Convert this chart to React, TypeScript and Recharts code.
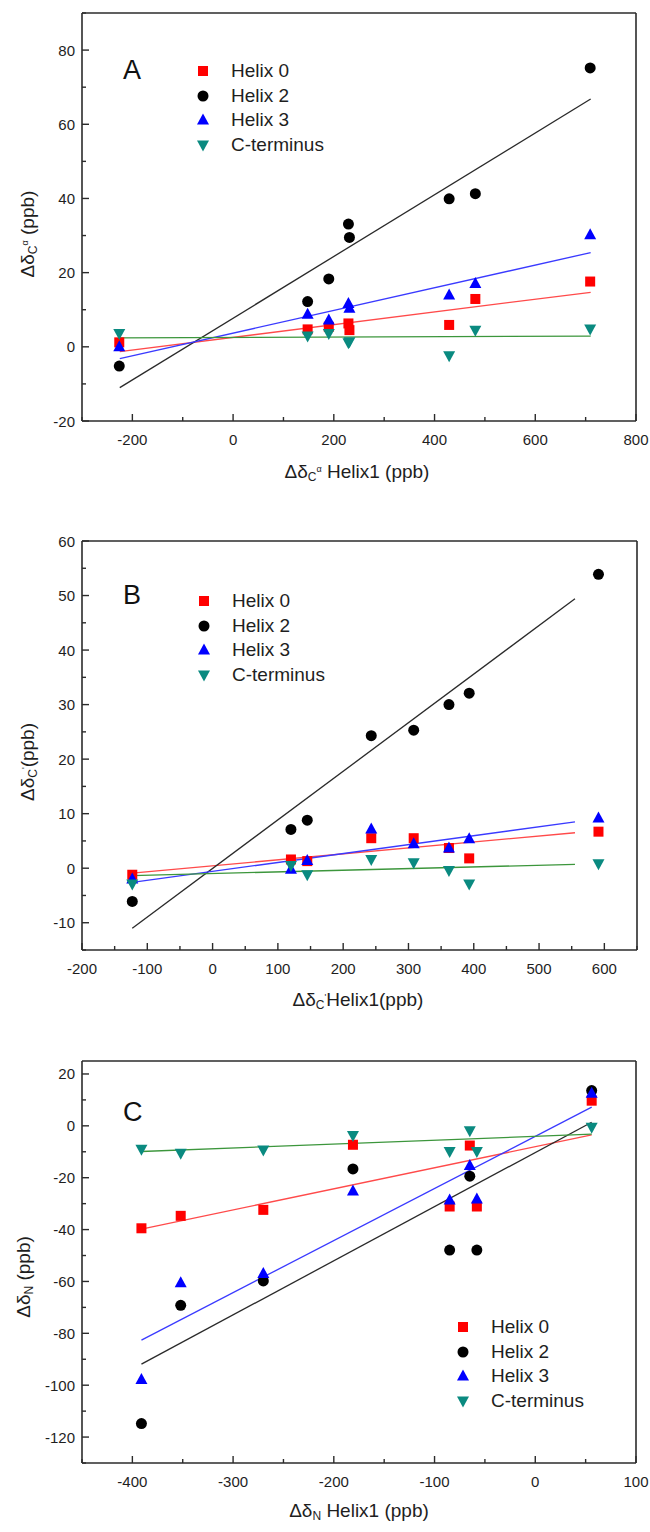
import React from 'react';
import { ScatterChart, Scatter, XAxis, YAxis, Legend } from 'recharts';

// ---------- panel A (C-alpha) ----------
const aX = [-226, 148, 190, 229, 231, 429, 481, 709];
const aHelix0 = [1.2, 4.7, 5.4, 6.3, 4.5, 5.9, 12.9, 17.6];
const aHelix2 = [-5.2, 12.2, 18.3, 33.1, 29.5, 39.9, 41.3, 75.2];
const aHelix3 = [0, 8.8, 7.2, 11.7, 10.4, 14, 17.1, 30.2];
const aCterm = [3.6, 2.9, 3.6, 1.1, 1.4, -2.4, 4.5, 4.8];
const aFitX = [-225, 710];
const aFitHelix0 = [-1.3, 14.7];
const aFitHelix2 = [-11, 66.8];
const aFitHelix3 = [-3.2, 25.4];
const aFitCterm = [2.4, 2.9];
const aXTicks = [-300, -200, -100, 0, 100, 200, 300, 400, 500, 600, 700, 800];
const aXLabels = [-200, 0, 200, 400, 600, 800];
const aYTicks = [-20, -10, 0, 10, 20, 30, 40, 50, 60, 70, 80, 90];
const aYLabels = [-20, 0, 20, 40, 60, 80];

// ---------- panel B (C') ----------
const bX = [-123, 120, 145, 243, 308, 362, 393, 591];
const bHelix0 = [-1.2, 1.6, 1.3, 5.5, 5.5, 3.7, 1.8, 6.7];
const bHelix2 = [-6.1, 7.1, 8.8, 24.3, 25.3, 30.0, 32.1, 53.9];
const bHelix3 = [-2.0, -0.2, 1.4, 7.2, 4.5, 3.7, 5.4, 9.2];
const bCterm = [-2.9, 0.5, -1.2, 1.6, 1.0, -0.4, -2.9, 0.8];
const bFitX = [-123, 555];
const bFitHelix0 = [-0.9, 6.5];
const bFitHelix2 = [-11, 49.4];
const bFitHelix3 = [-2.6, 8.5];
const bFitCterm = [-1.35, 0.7];
const bXTicks = [-200, -150, -100, -50, 0, 50, 100, 150, 200, 250, 300, 350, 400, 450, 500, 550, 600, 650];
const bXLabels = [-200, -100, 0, 100, 200, 300, 400, 500, 600];
const bYTicks = [-15, -10, -5, 0, 5, 10, 15, 20, 25, 30, 35, 40, 45, 50, 55, 60];
const bYLabels = [-10, 0, 10, 20, 30, 40, 50, 60];

// ---------- panel C (N) ----------
const cX = [-391, -352, -270, -181, -85, -65, -58, 56];
const cHelix0 = [-39.5, -34.7, -32.4, -7.3, -31.1, -7.6, -31.1, 9.7];
const cHelix2 = [-114.8, -69.2, -59.8, -16.6, -47.9, -19.4, -47.9, 13.6];
const cHelix3 = [-97.8, -60.5, -56.9, -25.1, -28.6, -15.3, -28.2, 12.6];
const cCterm = [-9, -10.6, -9.3, -3.7, -9.9, -1.9, -9.9, -0.5];
const cFitX = [-391, 56];
const cFitHelix0 = [-39.8, -3.5];
const cFitHelix2 = [-91.9, 1.4];
const cFitHelix3 = [-82.6, 7.2];
const cFitCterm = [-9.9, -3.2];
const cXTicks = [-450, -400, -350, -300, -250, -200, -150, -100, -50, 0, 50, 100];
const cXLabels = [-400, -300, -200, -100, 0, 100];
const cYTicks = [-130, -120, -110, -100, -90, -80, -70, -60, -50, -40, -30, -20, -10, 0, 10, 20];
const cYLabels = [-120, -100, -80, -60, -40, -20, 0, 20];

const seriesNames = ['Helix 0', 'Helix 2', 'Helix 3', 'C-terminus'];

const FONT = '"Liberation Sans", Arial, Helvetica, sans-serif';
const FRAME = '#2b2b2b';
const TEXT = '#1e1e1e';
const MARK = { square: '#ff0000', circle: '#000000', up: '#0000ff', down: '#0a8a80' };
const FIT = { square: '#ff4a4a', circle: '#2a2a2a', up: '#3a3aff', down: '#3c963c' };
const kinds: Array<'square' | 'circle' | 'up' | 'down'> = ['square', 'circle', 'up', 'down'];

const pts = (xs: number[], ys: number[]) => xs.map((x, i) => ({ x, y: ys[i] }));

const drawMarker = (kind: string, cx: number, cy: number) => {
  const c = (MARK as any)[kind];
  if (kind === 'square') return <rect x={cx - 5} y={cy - 5} width={10} height={10} fill={c} />;
  if (kind === 'circle') return <circle cx={cx} cy={cy} r={5.5} fill={c} />;
  if (kind === 'up')
    return <polygon points={`${cx},${cy - 6.5} ${cx + 6},${cy + 4.5} ${cx - 6},${cy + 4.5}`} fill={c} />;
  return <polygon points={`${cx},${cy + 6.5} ${cx + 6},${cy - 4.5} ${cx - 6},${cy - 4.5}`} fill={c} />;
};

const markerShape = (kind: string) => (p: any) => {
  if (p.cx == null || p.cy == null) return <g />;
  return drawMarker(kind, p.cx, p.cy);
};
const noShape = () => <g />;

// inward ticks on all four sides, labels only on majors
const makeTick = (side: string, labels: number[]) => (p: any) => {
  const v = p.payload.value;
  const major = labels.includes(v);
  const len = major ? 7 : 4;
  const { x, y } = p;
  const txt = { fontSize: 15, fill: TEXT, fontFamily: FONT } as any;
  if (side === 'bottom')
    return (
      <g>
        <line x1={x} y1={y} x2={x} y2={y - len} stroke={FRAME} strokeWidth={1.4} />
        {major && <text x={x} y={y + 18} textAnchor="middle" dominantBaseline="central" {...txt}>{v}</text>}
      </g>
    );
  if (side === 'top') return <line x1={x} y1={y} x2={x} y2={y + len} stroke={FRAME} strokeWidth={1.4} />;
  if (side === 'left')
    return (
      <g>
        <line x1={x} y1={y} x2={x + len} y2={y} stroke={FRAME} strokeWidth={1.4} />
        {major && <text x={x - 7} y={y} textAnchor="end" dominantBaseline="central" {...txt}>{v}</text>}
      </g>
    );
  return <line x1={x} y1={y} x2={x - len} y2={y} stroke={FRAME} strokeWidth={1.4} />;
};

const AxisTitle = ({ tx, ty, sub, sup, rest, rotate }: any) => (
  <text
    x={tx}
    y={ty}
    transform={rotate ? `rotate(-90 ${tx} ${ty})` : undefined}
    textAnchor="middle"
    dominantBaseline="central"
    fontSize={19}
    fontFamily={FONT}
    fill={TEXT}
  >
    Δδ
    <tspan dy={6} fontSize={12}>{sub}</tspan>
    {sup ? <tspan dy={-8} fontSize={9}>{sup}</tspan> : null}
    <tspan dy={sup ? 2 : -6} fontSize={19}>{rest}</tspan>
  </text>
);

const LegendBox = () => (
  <div style={{ fontFamily: FONT, fontSize: 19, color: TEXT }}>
    {seriesNames.map((n, i) => (
      <div key={n} style={{ display: 'flex', alignItems: 'center', height: 24.5 }}>
        <svg width={14} height={14} style={{ marginRight: 21 }}>
          {drawMarker(kinds[i], 7, 7)}
        </svg>
        <span style={{ whiteSpace: 'nowrap' }}>{n}</span>
      </div>
    ))}
  </div>
);

interface PanelProps {
  top: number;
  height: number;
  plotTop: number;
  plotBottom: number;
  rightW: number;
  xDomain: [number, number];
  yDomain: [number, number];
  xTicks: number[];
  xLabels: number[];
  yTicks: number[];
  yLabels: number[];
  data: { x: number; y: number }[][];
  fits: { x: number; y: number }[][];
  letter: string;
  letterTop: number;
  legendLeft: number;
  legendTop: number;
  xTitle: any;
  yTitle: any;
}

const Panel = (p: PanelProps) => (
  <div style={{ position: 'absolute', left: 0, top: p.top, width: 650, height: p.height }}>
    <ScatterChart width={650} height={p.height} margin={{ top: 0, right: 0, bottom: 0, left: 0 }}>
      <XAxis
        xAxisId="b"
        type="number"
        dataKey="x"
        orientation="bottom"
        domain={p.xDomain}
        ticks={p.xTicks}
        interval={0}
        height={p.height - p.plotBottom}
        tickSize={0}
        tickMargin={0}
        tickLine={false}
        axisLine={{ stroke: FRAME, strokeWidth: 1.6 }}
        tick={makeTick('bottom', p.xLabels)}
        label={<AxisTitle {...p.xTitle} />}
      />
      <XAxis
        xAxisId="t"
        type="number"
        dataKey="x"
        orientation="top"
        domain={p.xDomain}
        ticks={p.xTicks}
        interval={0}
        height={p.plotTop}
        tickSize={0}
        tickMargin={0}
        tickLine={false}
        axisLine={{ stroke: FRAME, strokeWidth: 1.6 }}
        tick={makeTick('top', p.xLabels)}
      />
      <YAxis
        yAxisId="l"
        type="number"
        dataKey="y"
        orientation="left"
        domain={p.yDomain}
        ticks={p.yTicks}
        interval={0}
        width={82}
        tickSize={0}
        tickMargin={0}
        tickLine={false}
        axisLine={{ stroke: FRAME, strokeWidth: 1.6 }}
        tick={makeTick('left', p.yLabels)}
        label={<AxisTitle {...p.yTitle} rotate />}
      />
      <YAxis
        yAxisId="r"
        type="number"
        dataKey="y"
        orientation="right"
        domain={p.yDomain}
        ticks={p.yTicks}
        interval={0}
        width={p.rightW}
        tickSize={0}
        tickMargin={0}
        tickLine={false}
        axisLine={{ stroke: FRAME, strokeWidth: 1.6 }}
        tick={makeTick('right', p.yLabels)}
      />
      {p.fits.map((d, i) => (
        <Scatter
          key={'fit' + i}
          xAxisId="b"
          yAxisId="l"
          data={d}
          line={{ stroke: (FIT as any)[kinds[i]], strokeWidth: 1.3 }}
          shape={noShape}
          legendType="none"
          isAnimationActive={false}
        />
      ))}
      {p.data.map((d, i) => (
        <Scatter
          key={'pts' + i}
          name={seriesNames[i]}
          xAxisId="b"
          yAxisId="l"
          data={d}
          shape={markerShape(kinds[i])}
          isAnimationActive={false}
        />
      ))}
      <Legend
        layout="vertical"
        align="center"
        verticalAlign="middle"
        content={() => <LegendBox />}
        wrapperStyle={{ left: p.legendLeft, top: p.legendTop, width: 'auto', height: 'auto' }}
      />
    </ScatterChart>
    <div
      style={{
        position: 'absolute',
        left: 123,
        top: p.letterTop,
        fontFamily: FONT,
        fontSize: 27,
        lineHeight: '27px',
        color: '#111',
      }}
    >
      {p.letter}
    </div>
  </div>
);

export default function App() {
  return (
    <div style={{ position: 'absolute', left: 0, top: 0, width: 650, height: 1532, background: '#fff' }}>
      <Panel
        top={0}
        height={500}
        plotTop={13}
        plotBottom={421}
        rightW={14}
        xDomain={[-300, 800]}
        yDomain={[-20, 90]}
        xTicks={aXTicks}
        xLabels={aXLabels}
        yTicks={aYTicks}
        yLabels={aYLabels}
        data={[pts(aX, aHelix0), pts(aX, aHelix2), pts(aX, aHelix3), pts(aX, aCterm)]}
        fits={[pts(aFitX, aFitHelix0), pts(aFitX, aFitHelix2), pts(aFitX, aFitHelix3), pts(aFitX, aFitCterm)]}
        letter="A"
        letterTop={57}
        legendLeft={196}
        legendTop={59}
        xTitle={{ tx: 357, ty: 471, sub: 'C', sup: 'α', rest: ' Helix1 (ppb)' }}
        yTitle={{ tx: 27, ty: 234, sub: 'C', sup: 'α', rest: ' (ppb)' }}
      />
      <Panel
        top={500}
        height={518}
        plotTop={41}
        plotBottom={450}
        rightW={13}
        xDomain={[-200, 650]}
        yDomain={[-15, 60]}
        xTicks={bXTicks}
        xLabels={bXLabels}
        yTicks={bYTicks}
        yLabels={bYLabels}
        data={[pts(bX, bHelix0), pts(bX, bHelix2), pts(bX, bHelix3), pts(bX, bCterm)]}
        fits={[pts(bFitX, bFitHelix0), pts(bFitX, bFitHelix2), pts(bFitX, bFitHelix3), pts(bFitX, bFitCterm)]}
        letter="B"
        letterTop={82}
        legendLeft={197}
        legendTop={89}
        xTitle={{ tx: 358, ty: 499, sub: 'C', sup: "'", rest: 'Helix1(ppb)' }}
        yTitle={{ tx: 27, ty: 262, sub: 'C', sup: "'", rest: '(ppb)' }}
      />
      <Panel
        top={1000}
        height={532}
        plotTop={61}
        plotBottom={463}
        rightW={14}
        xDomain={[-450, 100]}
        yDomain={[-130, 25]}
        xTicks={cXTicks}
        xLabels={cXLabels}
        yTicks={cYTicks}
        yLabels={cYLabels}
        data={[pts(cX, cHelix0), pts(cX, cHelix2), pts(cX, cHelix3), pts(cX, cCterm)]}
        fits={[pts(cFitX, cFitHelix0), pts(cFitX, cFitHelix2), pts(cFitX, cFitHelix3), pts(cFitX, cFitCterm)]}
        letter="C"
        letterTop={99}
        legendLeft={456}
        legendTop={315}
        xTitle={{ tx: 359, ty: 510, sub: 'N', rest: ' Helix1 (ppb)' }}
        yTitle={{ tx: 23, ty: 277, sub: 'N', rest: ' (ppb)' }}
      />
    </div>
  );
}
